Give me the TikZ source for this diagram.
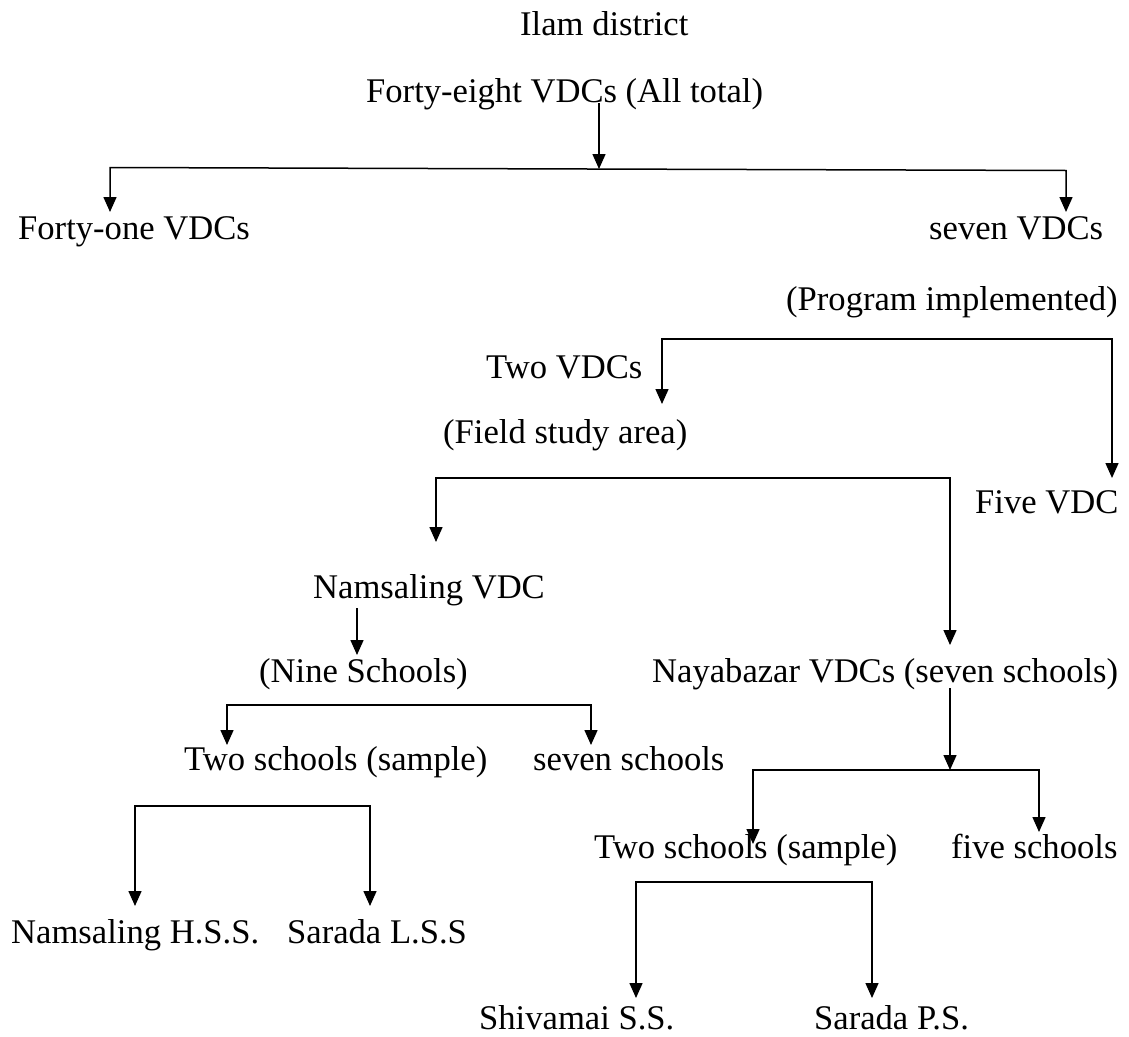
\documentclass[tikz,border=0pt]{standalone}
\usepackage{fontspec}
\setmainfont{Liberation Serif}
\usetikzlibrary{arrows.meta,calc}
\begin{document}
\begin{tikzpicture}[x=1pt,y=-1pt,
  lbl/.style={anchor=base west,inner sep=0pt,font=\fontsize{34.6}{40}\selectfont},
  ln/.style={line width=1.5pt},
  arr/.style={ln,-{Triangle[length=15pt,width=13pt]}},
  arrb/.style={ln,{Triangle[length=15pt,width=13pt]}-{Triangle[length=15pt,width=13pt]}}]
\useasboundingbox (0,0) rectangle (1129,1036);

% texts
\node[lbl] (ilam)  at (520,35)   {Ilam district};
\node[lbl] (f48)   at (366,102)  {Forty-eight VDCs (All total)};
\node[lbl] (f41)   at (18,239)   {Forty-one VDCs};
\node[lbl] (s7)    at (929,239)  {seven VDCs};
\node[lbl] (prog)  at (786,310)  {(Program implemented)};
\node[lbl] (two)   at (486,378)  {Two VDCs};
\node[lbl] (field) at (443,443)  {(Field study area)};
\node[lbl] (fivev) at (975,513)  {Five VDC};
\node[lbl] (nams)  at (313,598)  {Namsaling VDC};
\node[lbl] (nine)  at (259,682)  {(Nine Schools)};
\node[lbl] (naya)  at (652,682)  {Nayabazar VDCs (seven schools)};
\node[lbl] (twoL)  at (184,770)  {Two schools (sample)};
\node[lbl] (sevS)  at (533,770)  {seven schools};
\node[lbl] (twoR)  at (594,858)  {Two schools (sample)};
\node[lbl] (fiveS) at (951,858)  {five schools};
\node[lbl] (nhss)  at (11,943)   {Namsaling H.S.S.};
\node[lbl] (slss)  at (287,943)  {Sarada L.S.S};
\node[lbl] (shiv)  at (479,1029) {Shivamai S.S.};
\node[lbl] (sps)   at (814,1029) {Sarada P.S.};

% junction coordinates
\coordinate (j1)  at (599,169);
\coordinate (b1l) at (110,167.5);
\coordinate (b1r) at (1066,170.5);
\coordinate (b2l) at (662,339);
\coordinate (b2r) at (1112,339);
\coordinate (b3l) at (436,478);
\coordinate (b3r) at (950,478);
\coordinate (j4)  at (357,655);
\coordinate (b5l) at (227,705);
\coordinate (b5r) at (591,705);
\coordinate (j6)  at (950,770);
\coordinate (b6l) at (753,770);
\coordinate (b6r) at (1039,770);
\coordinate (b7l) at (135,806);
\coordinate (b7r) at (370,806);
\coordinate (b8l) at (636,882);
\coordinate (b8r) at (872,882);

% connectors
\draw[arr]  ($(f48.base -| j1)+(0,1)$) -- (j1);
\draw[arrb] ($(f41.base -| b1l)+(0,-27)$) -- (b1l) -- (b1r) -- ($(s7.base -| b1r)+(0,-27)$);
\draw[arrb] ($(field.base -| b2l)+(0,-39)$) -- (b2l) -- (b2r) -- ($(fivev.base -| b2r)+(0,-35)$);
\draw[arrb] ($(nams.base -| b3l)+(0,-56)$) -- (b3l) -- (b3r) -- ($(naya.base -| b3r)+(0,-37)$);
\draw[arr]  ($(nams.base -| j4)+(0,10)$) -- (j4);
\draw[arrb] ($(twoL.base -| b5l)+(0,-25)$) -- (b5l) -- (b5r) -- ($(sevS.base -| b5r)+(0,-25)$);
\draw[arr]  ($(naya.base -| j6)+(0,6)$) -- (j6);
\draw[arrb] ($(twoR.base -| b6l)+(0,-14)$) -- (b6l) -- (b6r) -- ($(fiveS.base -| b6r)+(0,-26)$);
\draw[arrb] ($(nhss.base -| b7l)+(0,-37)$) -- (b7l) -- (b7r) -- ($(slss.base -| b7r)+(0,-37)$);
\draw[arrb] ($(shiv.base -| b8l)+(0,-31)$) -- (b8l) -- (b8r) -- ($(sps.base -| b8r)+(0,-31)$);
\end{tikzpicture}
\end{document}
